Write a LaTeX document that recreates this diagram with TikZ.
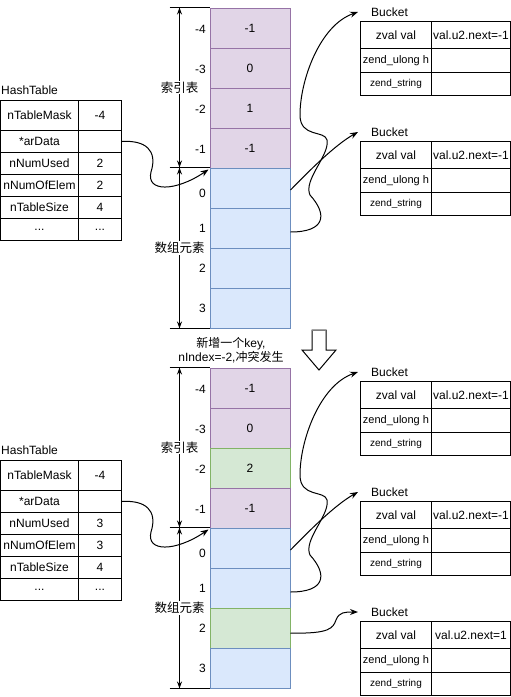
\documentclass[tikz,border=0pt]{standalone}
\usepackage{fontspec}
\setmainfont{Liberation Sans}
\newfontfamily\cjk{Noto Sans CJK SC}
\usetikzlibrary{arrows.meta}
\definecolor{pfill}{HTML}{E1D5E7}
\definecolor{pline}{HTML}{9673A6}
\definecolor{bfill}{HTML}{DAE8FC}
\definecolor{bline}{HTML}{6C8EBF}
\definecolor{gfill}{HTML}{D5E8D4}
\definecolor{gline}{HTML}{82B366}
\tikzset{
  every node/.style={font=\fontsize{12}{14}\selectfont},
  colcell/.style={minimum width=80pt, minimum height=40pt, inner sep=0pt, line width=1pt},
  idxcell/.style={colcell, draw=pline, fill=pfill},
  arrcell/.style={colcell, draw=bline, fill=bfill},
  grncell/.style={colcell, draw=gline, fill=gfill},
  htcell/.style={draw, minimum height=22pt, inner sep=0pt, anchor=north west, line width=1pt},
  htl/.style={htcell, minimum width=78pt},
  htr/.style={htcell, minimum width=43pt},
  bkcell/.style={draw, inner sep=0pt, anchor=north west, line width=1pt},
  bkl/.style={bkcell, minimum width=71pt},
  bkr/.style={bkcell, minimum width=79pt},
  bktitle/.style={anchor=west, inner sep=0pt},
  lnk/.style={line width=1pt, -{Stealth[length=8pt,width=6pt]}},
  dimarrow/.style={line width=1pt, {Stealth[length=7pt,width=5pt]}-{Stealth[length=7pt,width=5pt]}},
  tickline/.style={line width=1pt},
  idxlbl/.style={anchor=east, inner sep=0pt},
  dimlbl/.style={fill=white, inner sep=1pt, font=\cjk\fontsize{12.5}{14}\selectfont},
}
\newcommand\bucket[3]{%
  \node[bktitle] (#1t) at (371,{#2}) {Bucket};
  \node[bkl, minimum height=27pt] (#1a) at (360,{#2+9}) {zval val};
  \node[bkr, minimum height=27pt] (#1b) at (431,{#2+9}) {val.u2.next=#3};
  \node[bkl, minimum height=24pt, font=\fontsize{11}{13}\selectfont] (#1c) at (360,{#2+36}) {zend\_ulong h};
  \node[bkr, minimum height=24pt] (#1d) at (431,{#2+36}) {};
  \node[bkl, minimum height=23pt, font=\fontsize{10}{12}\selectfont] (#1e) at (360,{#2+60}) {zend\_string};
  \node[bkr, minimum height=23pt] (#1f) at (431,{#2+60}) {};
}
\newcommand\halfpic[6]{%
\begin{scope}[yshift=-#1pt]
  \node[idxcell] (i4#2) at (250,28) {-1};
  \node[idxcell] (i3#2) at (250,68) {0};
  \node[#4] (i2#2) at (250,108) {#3};
  \node[idxcell] (i1#2) at (250,148) {-1};
  \node[arrcell] (a0#2) at (250,188) {};
  \node[arrcell] (a1#2) at (250,228) {};
  \node[#6] (a2#2) at (250,268) {};
  \node[arrcell] (a3#2) at (250,308) {};
  \node[idxlbl] (l4#2) at (206,29) {-4};
  \node[idxlbl] (l3#2) at (206,69) {-3};
  \node[idxlbl] (l2#2) at (206,109) {-2};
  \node[idxlbl] (l1#2) at (206,149) {-1};
  \node[idxlbl] (m0#2) at (206,193) {0};
  \node[idxlbl] (m1#2) at (206,228) {1};
  \node[idxlbl] (m2#2) at (206,268) {2};
  \node[idxlbl] (m3#2) at (206,308) {3};
  \draw[tickline] ([xshift=-40pt]i4#2.north west) -- (i4#2.north west);
  \draw[tickline] ([xshift=-40pt]a0#2.north west) -- (a0#2.north west);
  \draw[tickline] ([xshift=-40pt]a3#2.south west) -- (a3#2.south west);
  \draw[dimarrow] ([xshift=-30pt]i4#2.north west) -- node[dimlbl] (d1#2) {索引表} ([xshift=-30pt]a0#2.north west);
  \draw[dimarrow] ([xshift=-30pt]a0#2.north west) -- node[dimlbl] (d2#2) {数组元素} ([xshift=-30pt]a3#2.south west);
  \node[anchor=west, inner sep=0pt] (ht#2) at (1,90) {HashTable};
  \node[htl, minimum height=30pt] (h1#2) at (0,100) {nTableMask};
  \node[htr, minimum height=30pt] (v1#2) at (78,100) {-4};
  \node[htl] (h2#2) at (0,130) {*arData};
  \node[htr] (v2#2) at (78,130) {};
  \node[htl] (h3#2) at (0,152) {nNumUsed};
  \node[htr] (v3#2) at (78,152) {#5};
  \node[htl] (h4#2) at (0,174) {nNumOfElem};
  \node[htr] (v4#2) at (78,174) {#5};
  \node[htl] (h5#2) at (0,196) {nTableSize};
  \node[htr] (v5#2) at (78,196) {4};
  \node[htl] (h6#2) at (0,218) {...};
  \node[htr] (v6#2) at (78,218) {...};
  \bucket{bka#2}{12}{-1}
  \bucket{bkb#2}{132}{-1}
  \draw[lnk] (v2#2.east) .. controls (145,140) and (158,150) .. (151,172)
     .. controls (146,192) and (175,192) .. ([shift={(-1,2)}]a0#2.north west);
  \draw[lnk] ([yshift=-2pt]a0#2.east) .. controls (310,170) and (335,145) .. ([xshift=-13pt]bkb#2t.west);
  \draw[lnk] ([yshift=-4pt]a1#2.east) .. controls (325,232) and (328,215) .. (310,195)
     .. controls (303,180) and (330,155) .. (327,140)
     .. controls (325,130) and (300,138) .. (300,115)
     .. controls (300,80) and (320,25) .. ([xshift=-13pt]bka#2t.west);
\end{scope}}
\begin{document}
\begin{tikzpicture}[x=1pt, y=-1pt]
  \useasboundingbox (0,0) rectangle (511,697);
  \halfpic{0}{T}{1}{idxcell}{2}{arrcell}
  \halfpic{360}{B}{2}{grncell}{3}{grncell}
  \bucket{bkc}{612}{1}
  \draw[lnk] ([yshift=-5pt]a2B.east) .. controls (330,634) and (333,628) .. (336,620)
     .. controls (339,612) and (345,612) .. ([xshift=-13pt]bkct.west);
  \node[align=center, inner sep=0pt] (note) at (231,350)
     {{\cjk 新增一个}key,\\nIndex=-2,{\cjk 冲突发生}};
  \draw[line width=1pt, fill=white] (312,330) -- (326,330) -- (326,350) -- (336,350)
     -- (319,370) -- (302,350) -- (312,350) -- cycle;
  \draw[line width=1pt, gray] (312,330) -- (326,330);
\end{tikzpicture}
\end{document}
